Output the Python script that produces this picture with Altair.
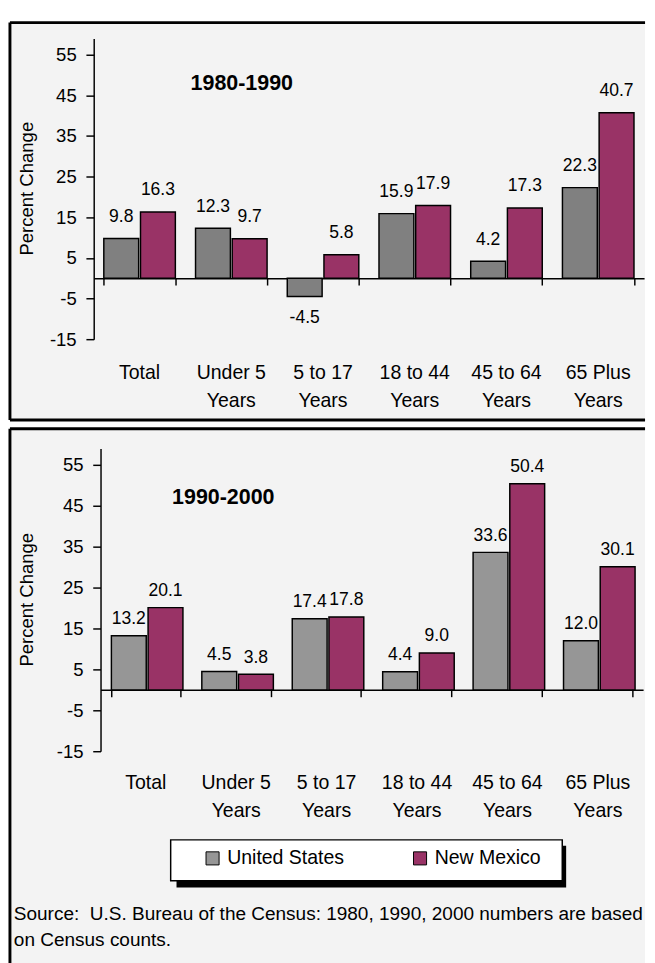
import altair as alt
import pandas as pd

categories = ["Total", "Under 5\nYears", "5 to 17\nYears", "18 to 44\nYears", "45 to 64\nYears", "65 Plus\nYears"]
series = ["United States", "New Mexico"]
us_1980_1990 = [9.8, 12.3, -4.5, 15.9, 4.2, 22.3]
nm_1980_1990 = [16.3, 9.7, 5.8, 17.9, 17.3, 40.7]
us_1990_2000 = [13.2, 4.5, 17.4, 4.4, 33.6, 12.0]
nm_1990_2000 = [20.1, 3.8, 17.8, 9.0, 50.4, 30.1]
y_ticks = [-15, -5, 5, 15, 25, 35, 45, 55]
period_titles = ["1980-1990", "1990-2000"]
source_lines = ["Source:\u00a0 U.S. Bureau of the Census: 1980, 1990, 2000 numbers are based",
                "on Census counts."]

FONT = "Liberation Sans, Arial, Helvetica, sans-serif"
PLUM = "#993366"


def make_df(us, nm):
    rows = []
    for c, u, n in zip(categories, us, nm):
        rows.append({"cat": c, "series": series[0], "value": u, "label": f"{u:.1f}"})
        rows.append({"cat": c, "series": series[1], "value": n, "label": f"{n:.1f}"})
    return pd.DataFrame(rows)


def panel(us, nm, title, g, gray, legend):
    df = make_df(us, nm)
    base = alt.Chart(df)
    xs = alt.Scale(domain=categories, range=g["x_range"], paddingInner=g["pin"], paddingOuter=g["pin"] / 2)
    ys = alt.Scale(domain=[-15, 59], range=g["y_range"], nice=False)
    xo = alt.XOffset("series:N", sort=series, scale=alt.Scale(paddingInner=g["pin2"]))
    color = alt.Color("series:N", scale=alt.Scale(domain=series, range=[gray, PLUM]), legend=legend)

    label_axis = alt.Axis(orient="bottom", offset=g["label_top"] - g["H"], domain=False, ticks=False,
                          tickSize=0, labelPadding=0, labelAngle=0, labelFontSize=20, labelLineHeight=29,
                          labelExpr="split(datum.label, '\\n')", labelBaseline="top", labelColor="black",
                          labelFont=FONT, labelOverlap=False, title=None)
    zero_axis = alt.Axis(orient="bottom", offset=g["zero_y"] - g["H"], labels=False, domain=True,
                         domainColor="black", domainWidth=1.5, ticks=True, tickBand="extent", tickSize=7,
                         tickColor="black", tickWidth=1.5, title=None)
    if g["cross"]:
        up_axis = alt.Axis(orient="top", offset=-g["zero_y"], labels=False, domain=False,
                           ticks=True, tickBand="extent", tickSize=6, tickColor="black",
                           tickWidth=1.5, title=None)
    else:
        up_axis = None
    y_axis = alt.Axis(orient="left", offset=-g["x_range"][0], values=y_ticks, labelExpr="'' + datum.value",
                      tickSize=8, labelPadding=10, labelFontSize=19, labelFont=FONT, labelColor="black",
                      domainColor="black", domainWidth=1.5, tickColor="black", tickWidth=1.5, grid=False,
                      title="Percent Change", titleFontSize=19, titleFont=FONT, titleFontWeight="normal",
                      titleColor="black", titleX=g["ytitle"][0] - g["x_range"][0], titleY=g["ytitle"][1],
                      titleAngle=270, titleAlign="center", titleBaseline="middle")

    bars = base.mark_bar(stroke="black", strokeWidth=1.5).encode(
        x=alt.X("cat:N", sort=categories, scale=xs, axis=label_axis),
        xOffset=xo,
        y=alt.Y("value:Q", scale=ys, axis=y_axis, stack=None),
        color=color,
    )
    pos = base.transform_filter("datum.value >= 0").mark_text(
        font=FONT, fontSize=18, color="black", baseline="middle", dy=-g["ldy"]).encode(
        x=alt.X("cat:N", sort=categories, scale=xs, axis=zero_axis),
        xOffset=xo,
        y=alt.Y("value:Q", scale=ys),
        text="label:N",
    )
    neg = base.transform_filter("datum.value < 0").mark_text(
        font=FONT, fontSize=18, color="black", baseline="middle", dy=g["ldy"]).encode(
        x=alt.X("cat:N", sort=categories, scale=xs, axis=up_axis),
        xOffset=xo,
        y=alt.Y("value:Q", scale=ys),
        text="label:N",
    )
    one = alt.Chart(pd.DataFrame({"k": [0]}))
    ttl = one.mark_text(text=title, font=FONT, fontSize=22, fontWeight="bold", color="black",
                        align="center", baseline="middle").encode(
        x=alt.value(g["title"][0]), y=alt.value(g["title"][1]))

    # panel frame: left and top edges (plus bottom edge for the upper panel)
    frame = [
        one.mark_rule(color="black", strokeWidth=3).encode(
            x=alt.value(0), y=alt.value(0), y2=alt.value(g["H"])),
        one.mark_rule(color="black", strokeWidth=3).encode(
            x=alt.value(0), x2=alt.value(g["W"]), y=alt.value(0)),
    ]
    if g["bottom_edge"]:
        frame.append(one.mark_rule(color="black", strokeWidth=3).encode(
            x=alt.value(0), x2=alt.value(g["W"]), y=alt.value(g["H"])))

    layers = [bars, pos, neg, ttl]
    if legend is not None:
        shadow = one.mark_rect(fill="black").encode(
            x=alt.value(171), x2=alt.value(571), y=alt.value(428), y2=alt.value(471))
        box = one.mark_rect(fill="white", stroke="black", strokeWidth=1.5).encode(
            x=alt.value(165), x2=alt.value(567), y=alt.value(422), y2=alt.value(464))
        src = one.mark_text(text=source_lines, font=FONT, fontSize=19.5, color="black", align="left",
                            baseline="alphabetic", lineHeight=27).encode(
            x=alt.value(4), y=alt.value(504))
        layers = [shadow, box] + layers + [src]
    layers = layers + frame
    return alt.layer(*layers).resolve_axis(x="independent").properties(width=g["W"], height=g["H"])


g_top = dict(W=652, H=408, x_range=[86, 651], y_range=[325, 16.3], pin=0.22, pin2=0.05,
             label_top=348.9, zero_y=262.4, title=(238, 62), ytitle=(17, 170), ldy=22, cross=False,
             bottom_edge=True)
g_bot = dict(W=652, H=556, x_range=[93, 650], y_range=[331, 20.2], pin=0.24, pin2=0.07,
             label_top=353.4, zero_y=268, title=(219, 70), ytitle=(17, 175), ldy=17, cross=True,
             bottom_edge=False)

legend = alt.Legend(orient="none", legendX=198, legendY=431, direction="horizontal", title=None,
                    symbolType="square", symbolSize=180, symbolStrokeColor="black", symbolStrokeWidth=1,
                    symbolOpacity=1, labelFontSize=20, labelFont=FONT, labelColor="black", labelOffset=5,
                    columnPadding=67, padding=0, labelLimit=300)

top = panel(us_1980_1990, nm_1980_1990, period_titles[0], g_top, "#808080", None)
bottom = panel(us_1990_2000, nm_1990_2000, period_titles[1], g_bot, "#969696", legend)

chart = alt.vconcat(top, bottom, spacing=5).resolve_scale(color="independent").properties(
    padding=0, background="white"
).configure_view(strokeWidth=0, fill="#f3f3f3")

chart.save("out.html", embed_options={"renderer": "svg", "actions": False})
